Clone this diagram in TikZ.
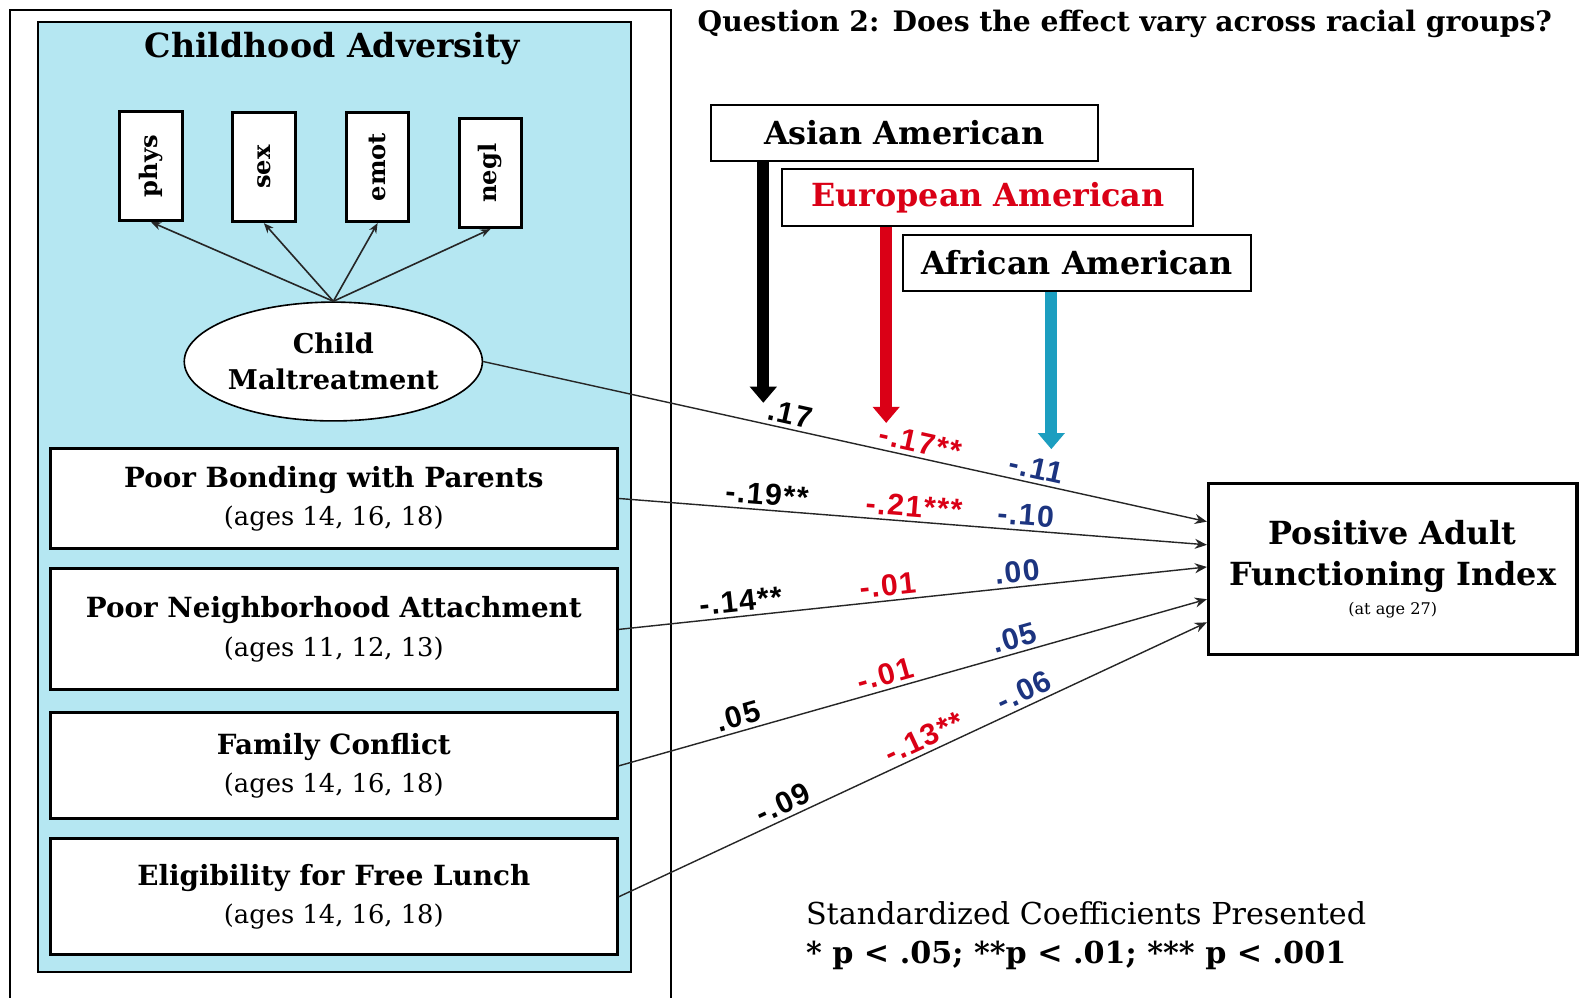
\documentclass[tikz,border=0pt]{standalone}
\usepackage{graphicx}
\usepackage{fontspec}
\setmainfont{DejaVu Serif}
\newfontfamily\coeffont{Liberation Sans}[LetterSpace=5]
\usetikzlibrary{arrows.meta,shapes.geometric,calc}

\definecolor{advcyan}{RGB}{181,231,242}
\definecolor{afrcyan}{RGB}{28,158,192}
\definecolor{eured}{RGB}{218,0,22}
\definecolor{coefblue}{RGB}{28,52,128}

\begin{document}
\begin{tikzpicture}[x=0.5pt,y=-0.5pt,
    varbox/.style={draw, line width=1.5pt, fill=white, minimum width=281.5pt, inner sep=0pt, align=center, font=\bfseries\fontsize{13.8}{19}\selectfont},
    indbox/.style={draw, line width=1.5pt, fill=white, minimum width=31pt, minimum height=54pt, inner sep=0pt, font=\bfseries\fontsize{12}{14}\selectfont},
    racebox/.style={draw, line width=1pt, fill=white, minimum height=28pt, inner sep=0pt, font=\bfseries\fontsize{15.8}{18}\selectfont},
    loading/.style={-{Stealth[length=5pt,width=4pt]}, line width=0.8pt, draw=black!85},
    effect/.style={-{Stealth[length=6pt,width=5pt]}, line width=0.7pt, draw=black!85},
    racearrow/.style={line width=6pt, -{Triangle[length=8pt,width=13pt]}},
    coef/.style={sloped, above=1.5pt, inner sep=0.5pt, font=\coeffont\bfseries\fontsize{15}{16}\selectfont},
  ]
  \fill[white] (0,0) rectangle (1568,991);
  \useasboundingbox (0,0) rectangle (1568,991);

  % frame, open at the bottom
  \draw[line width=1pt] (10,991) -- (10,10) -- (666,10) -- (666,991);

  % childhood adversity panel
  \draw[line width=1pt, fill=advcyan] (38,22) rectangle (627,965);
  \node[font=\bfseries\fontsize{16.5}{18}\selectfont] (advtitle) at (330,48) {Childhood Adversity};

  \node[indbox] (phys) at (150,165) {\rotatebox{90}{phys}};
  \node[indbox] (sex) at (262,166) {\rotatebox{90}{sex}};
  \node[indbox] (emot) at (375,166) {\rotatebox{90}{emot}};
  \node[indbox] (negl) at (487,172) {\rotatebox{90}{negl}};

  \node[draw, ellipse, line width=0.8pt, fill=white, minimum width=146.5pt, minimum height=59pt, inner sep=0pt, align=center,
    font=\bfseries\fontsize{13.5}{18}\selectfont] (malt) at (331,359) {Child\\Maltreatment};

  \foreach \ind in {phys,sex,emot,negl}
    \draw[loading] (malt.north) -- (\ind.south);

  \node[varbox, minimum height=50pt] (bond) at (331.5,495)
    {Poor Bonding with Parents\\{\mdseries\fontsize{12.8}{19}\selectfont (ages 14, 16, 18)}};
  \node[varbox, minimum height=60pt] (neigh) at (331.5,625)
    {Poor Neighborhood Attachment\\{\mdseries\fontsize{12.8}{19}\selectfont (ages 11, 12, 13)}};
  \node[varbox, minimum height=52.5pt] (fam) at (331.5,760.5)
    {Family Conflict\\{\mdseries\fontsize{12.8}{19}\selectfont (ages 14, 16, 18)}};
  \node[varbox, minimum height=57.5pt] (lunch) at (331.5,890.5)
    {Eligibility for Free Lunch\\{\mdseries\fontsize{12.8}{19}\selectfont (ages 14, 16, 18)}};

  % outcome
  \node[draw, line width=1.5pt, minimum width=183pt, minimum height=85pt, inner sep=0pt, align=center,
    font=\bfseries\fontsize{15.8}{20.5}\selectfont] (out) at (1383,565)
    {Positive Adult\\Functioning Index\\[-6pt]{\mdseries\fontsize{8}{9}\selectfont (at age 27)}};

  % question and groups
  \node[font=\bfseries\fontsize{14}{16}\selectfont] (question) at (1117,24) {Question 2: Does the effect vary across racial groups?};
  \node[racebox, minimum width=192pt] (asian) at (898,132) {Asian American};
  \node[racebox, minimum width=204pt, text=eured] (euro) at (981,196) {European American};
  \node[racebox, minimum width=172.5pt] (afr) at (1069.5,261) {African American};

  \coordinate (asianend) at (758,400);
  \coordinate (euroend) at (880,420);
  \coordinate (afrend) at (1044,446);
  \draw[racearrow, black] (asian.south -| asianend) -- (asianend);
  \draw[racearrow, eured] (euro.south -| euroend) -- (euroend);
  \draw[racearrow, afrcyan] (afr.south -| afrend) -- (afrend);

  % paths to the outcome
  \draw[effect] (malt.east) -- ($(out.west)+(0,-47)$)
    node[coef, pos=0.42] {.17}
    node[coef, pos=0.60, text=eured] {-.17**}
    node[coef, pos=0.76, text=coefblue] {-.11};
  \draw[effect] (bond.east) -- ($(out.west)+(0,-24)$)
    node[coef, pos=0.25] {-.19**}
    node[coef, pos=0.50, text=eured] {-.21***}
    node[coef, pos=0.69, text=coefblue] {-.10};
  \draw[effect] (neigh.east) -- ($(out.west)+(0,-2)$)
    node[coef, pos=0.21] {-.14**}
    node[coef, pos=0.46, text=eured] {-.01}
    node[coef, pos=0.68, text=coefblue] {.00};
  \draw[effect] (fam.east) -- ($(out.west)+(0,30)$)
    node[coef, pos=0.21] {.05}
    node[coef, pos=0.46, text=eured] {-.01}
    node[coef, pos=0.68, text=coefblue] {.05};
  \draw[effect] (lunch.east) -- ($(out.west)+(0,53)$)
    node[coef, pos=0.29] {-.09}
    node[coef, pos=0.53, text=eured] {-.13**}
    node[coef, pos=0.70, text=coefblue] {-.06};

  % note
  \node[anchor=west, align=left, inner sep=0pt, font=\fontsize{15}{19}\selectfont] (note) at (800,929)
    {Standardized Coefficients Presented\\{\bfseries * p < .05; **p < .01; *** p < .001}};
\end{tikzpicture}
\end{document}
